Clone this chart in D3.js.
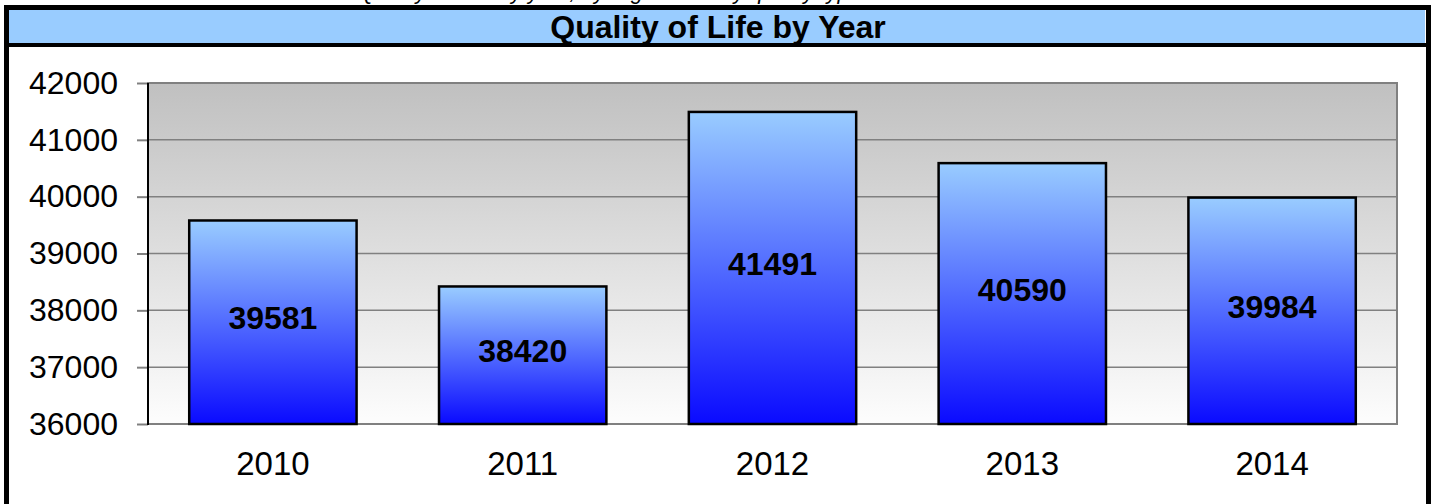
<!DOCTYPE html>
<html>
<head>
<meta charset="utf-8">
<script src="https://cdn.jsdelivr.net/npm/d3@7"></script>
<style>
  body { margin: 0; background: #fff; }
  svg { display: block; font-family: "Liberation Sans", Arial, sans-serif; }
</style>
</head>
<body>
<div id="content"></div>
<script>
// chart data
var years = ["2010", "2011", "2012", "2013", "2014"];
var values = [39581, 38420, 41491, 40590, 39984];
var yTicks = [36000, 37000, 38000, 39000, 40000, 41000, 42000];
var chartTitle = "Quality of Life by Year";
var caption = "Quality of Life by year, by region and by quality type";

var W = 1432, H = 504;
var plot = { left: 148, top: 83, right: 1397, bottom: 424 };

var svg = d3.select("#content").append("svg").attr("width", W).attr("height", H);

var defs = svg.append("defs");

// plot area background: grey top fading to white
var bg = defs.append("linearGradient").attr("id", "bgGrad")
    .attr("x1", "0%").attr("y1", "0%").attr("x2", "0%").attr("y2", "100%");
bg.append("stop").attr("offset", "0%").attr("stop-color", "#c0c0c0");
bg.append("stop").attr("offset", "100%").attr("stop-color", "#fdfdfd");

// bar fill: light blue to blue
var barGrad = defs.append("linearGradient").attr("id", "barGrad")
    .attr("x1", "0%").attr("y1", "0%").attr("x2", "0%").attr("y2", "100%");
barGrad.append("stop").attr("offset", "0%").attr("stop-color", "#99ccff");
barGrad.append("stop").attr("offset", "100%").attr("stop-color", "#0a0aff");

// caption above the frame (cut off by the page edge, as in the original)
svg.append("text")
    .attr("x", 610).attr("y", -1)
    .attr("text-anchor", "middle")
    .style("font-style", "italic")
    .style("font-size", "22px")
    .text(caption);

// outer frame
svg.append("rect")
    .attr("x", 6.5).attr("y", 7.5)
    .attr("width", 1422).attr("height", 510)
    .attr("fill", "none").attr("stroke", "#000").attr("stroke-width", 5);

// title band
svg.append("rect")
    .attr("x", 9).attr("y", 10)
    .attr("width", 1416).attr("height", 33)
    .attr("fill", "#99ccff");
svg.append("line")
    .attr("x1", 9).attr("x2", 1427).attr("y1", 45).attr("y2", 45)
    .attr("stroke", "#000").attr("stroke-width", 4);
svg.append("text")
    .attr("x", 718).attr("y", 38)
    .attr("text-anchor", "middle")
    .style("font-weight", "bold")
    .style("font-size", "32px")
    .text(chartTitle);

// scales
var x = d3.scaleBand().domain(years).range([plot.left, plot.right]).paddingInner(0.33).paddingOuter(0.165);
var y = d3.scaleLinear().domain([36000, 42000]).range([plot.bottom, plot.top]);

// plot background with grey border
svg.append("rect")
    .attr("x", plot.left).attr("y", plot.top)
    .attr("width", plot.right - plot.left).attr("height", plot.bottom - plot.top)
    .attr("fill", "url(#bgGrad)")
    .attr("stroke", "#808080").attr("stroke-width", 2);

// gridlines
svg.append("g")
    .selectAll("line")
    .data(yTicks.slice(1, -1))
    .join("line")
    .attr("x1", plot.left).attr("x2", plot.right)
    .attr("y1", function(d) { return y(d); })
    .attr("y2", function(d) { return y(d); })
    .attr("stroke", "#808080").attr("stroke-width", 1.5);

// y axis
var yAxis = d3.axisLeft(y).tickValues(yTicks).tickSize(11).tickPadding(19).tickFormat(d3.format("d"));
var gy = svg.append("g").attr("transform", "translate(" + plot.left + ",0)").call(yAxis);
gy.select(".domain").remove();
gy.selectAll(".tick line").attr("stroke", "#808080").attr("stroke-width", 2);
gy.selectAll(".tick text").style("font-size", "32px").attr("fill", "#000")
    .attr("font-family", "Liberation Sans, Arial, sans-serif");
svg.append("line")
    .attr("x1", plot.left).attr("x2", plot.left)
    .attr("y1", plot.top).attr("y2", plot.bottom + 1)
    .attr("stroke", "#000").attr("stroke-width", 2);

// x labels
svg.append("g")
    .selectAll("text")
    .data(years)
    .join("text")
    .attr("x", function(d) { return x(d) + x.bandwidth() / 2; })
    .attr("y", 475)
    .attr("text-anchor", "middle")
    .style("font-size", "33px")
    .text(function(d) { return d; });

// bars
var bars = svg.append("g")
    .selectAll("g")
    .data(values)
    .join("g");

bars.append("rect")
    .attr("x", function(d, i) { return x(years[i]); })
    .attr("y", function(d) { return y(d); })
    .attr("width", x.bandwidth())
    .attr("height", function(d) { return y(36000) - y(d); })
    .attr("fill", "url(#barGrad)")
    .attr("stroke", "#000").attr("stroke-width", 2.5);

bars.append("text")
    .attr("x", function(d, i) { return x(years[i]) + x.bandwidth() / 2; })
    .attr("y", function(d) { return (y(d) + y(36000)) / 2 + 7; })
    .attr("text-anchor", "middle")
    .style("font-weight", "bold")
    .style("font-size", "32px")
    .text(function(d) { return d; });
</script>
</body>
</html>
